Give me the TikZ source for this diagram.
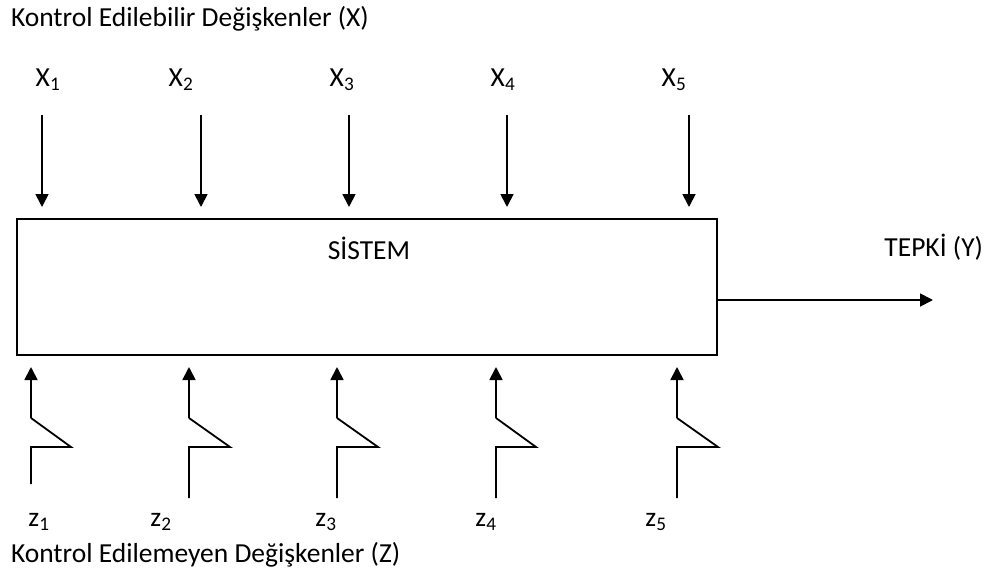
\documentclass[tikz,border=0pt]{standalone}
\usepackage{fontspec}
\setmainfont{Carlito}
\usetikzlibrary{arrows.meta}
\tikzset{
  lbl/.style={inner sep=0pt, outer sep=0pt, font=\fontsize{27.5}{32}\selectfont},
  arr/.style={line width=1.8pt, -{Triangle[width=13pt,length=13pt]}},
  ln/.style={line width=1.8pt},
}
\begin{document}
\begin{tikzpicture}[x=1pt,y=-1pt]
\useasboundingbox (0,0) rectangle (989,576);
% titles
\node[lbl, anchor=west] (ttop) at (11,19) {Kontrol Edilebilir\ Değişkenler\ (X)};
\node[lbl, anchor=west] (tbot) at (11,555) {Kontrol Edilemeyen\ Değişkenler\ (Z)};
% system box
\node[draw, line width=1.8pt, minimum width=700pt, minimum height=136pt, inner sep=0pt, outer sep=0pt, anchor=north west] (sys) at (17,219) {};
\node[lbl] (sistem) at (369,248) {SİSTEM};
\node[lbl, anchor=east] (tepki) at (983,247) {TEPKİ (Y)};
\coordinate (yout) at (933,300);
\draw[arr] (sys.east |- yout) -- (yout);
% controllable inputs
\foreach \i/\lx/\ax in {1/48/42, 2/181/201, 3/342/349, 4/503/507, 5/674/689}{
  \node[lbl] (x\i) at (\lx,80) {X\textsubscript{\i}};
  \coordinate (xs\i) at (\ax,115);
  \coordinate (xe\i) at (\ax,207);
  \draw[arr] (xs\i) -- (xe\i);
}
% uncontrollable inputs
\foreach \i/\lx/\ax/\bx/\by in {1/39/31/71/484, 2/161/189/230/498, 3/326/337/378/498, 4/486/496/536/498, 5/656/677/718/498}{
  \node[lbl] (z\i) at (\lx,522) {z\textsubscript{\i}};
  \coordinate (zb\i) at (\ax,\by);
  \coordinate (zk\i) at (\ax,447);
  \coordinate (zp\i) at (\bx,447);
  \coordinate (zq\i) at (\ax,418);
  \coordinate (zt\i) at (\ax,367);
  \draw[ln] (zb\i) -- (zk\i) -- (zp\i) -- (zq\i);
  \draw[arr] (zq\i) -- (zt\i);
}
\end{tikzpicture}
\end{document}
